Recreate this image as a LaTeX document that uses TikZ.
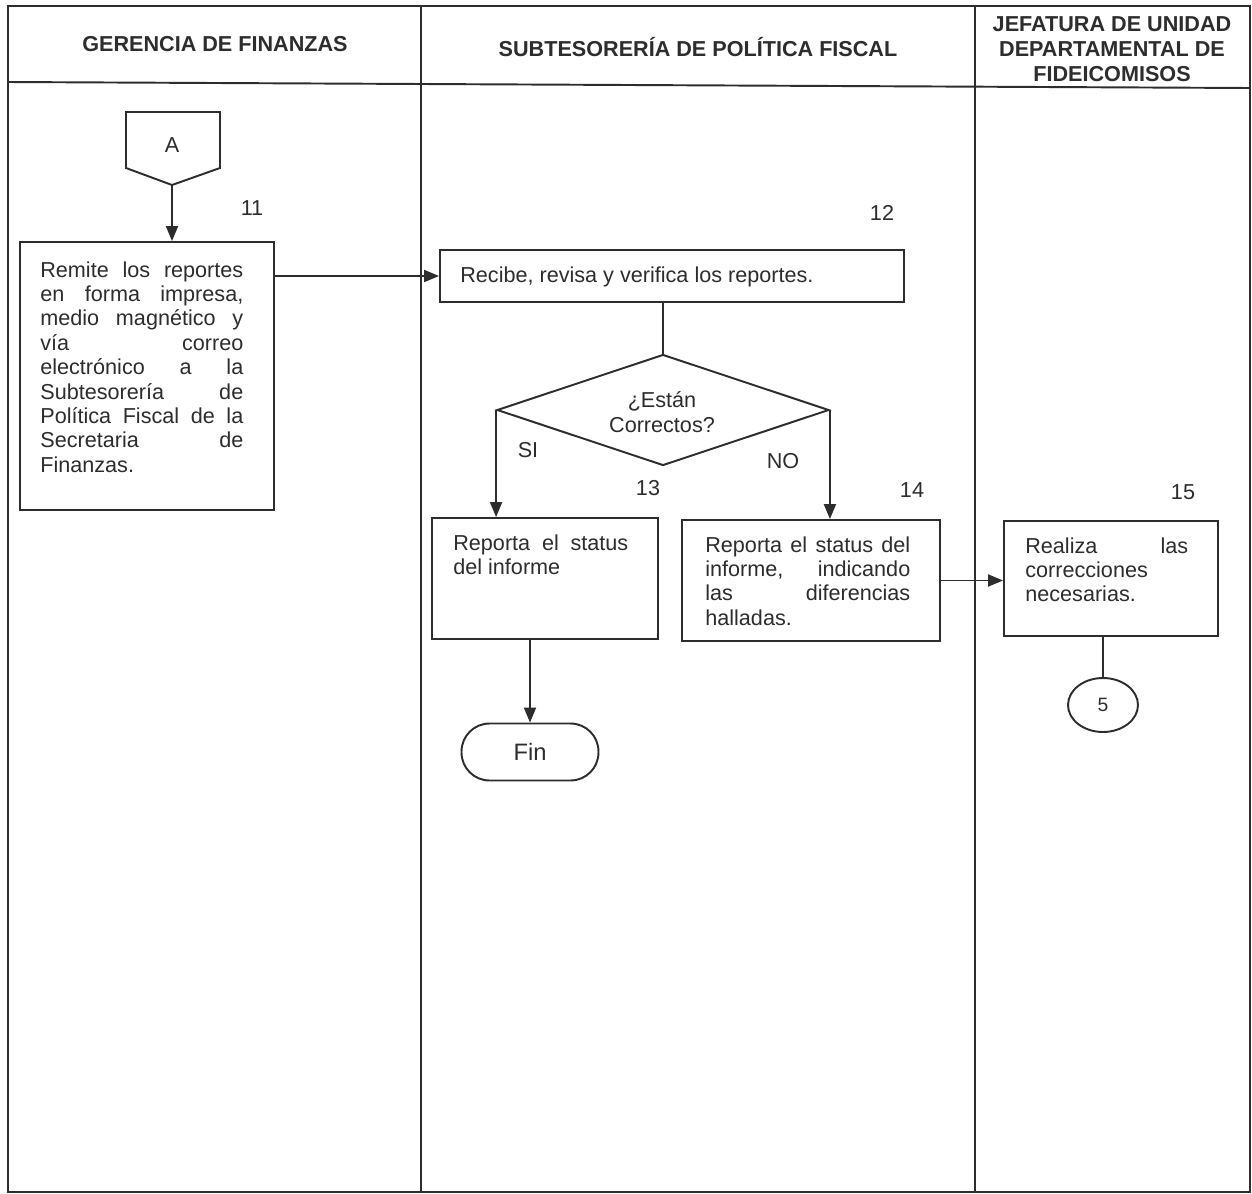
\documentclass[tikz,border=0pt]{standalone}
\usepackage{fontspec}
\setmainfont{Liberation Sans}
\usetikzlibrary{arrows.meta,shapes.geometric,fit}
\definecolor{ink}{RGB}{45,45,45}
\hbadness=10000
\begin{document}
\begin{tikzpicture}[x=0.02cm,y=-0.02cm,
  ln/.style={draw=ink, line width=1.1pt},
  box/.style={ln, inner sep=0pt},
  txt/.style={inner sep=0pt, anchor=north west, align=justify, font=\fontsize{12.3}{13.9}\selectfont, text=ink},
  lab/.style={inner sep=0pt, font=\fontsize{12.3}{13.9}\selectfont, text=ink},
  hdr/.style={inner sep=0pt, align=center, font=\bfseries\fontsize{12.3}{14.2}\selectfont, text=ink},
  arr/.style={ln, -{Triangle[length=0.3cm,width=0.24cm]}},
]
\useasboundingbox[fill=white] (0,0) rectangle (1252,1194);
% frame
\draw[ln] (8,6) rectangle (1250,1192);
\draw[ln] (8,82) -- (1250,88);
\draw[ln] (421,6) -- (421,1192);
\draw[ln] (975,6) -- (975,1192);
% headers
\node[hdr] (h1) at (215,44) {GERENCIA DE FINANZAS};
\node[hdr] (h2) at (698,47) {SUBTESORERÍA DE POLÍTICA FISCAL};
\node[hdr] (h3) at (1112,49) {JEFATURA DE UNIDAD\\DEPARTAMENTAL DE\\FIDEICOMISOS};
% off-page connector A
\coordinate (Ap) at (172,185);
\draw[ln] (126,112) -- (220,112) -- (220,168) -- (Ap) -- (126,168) -- cycle;
\node[lab] (A) at (172,145) {A};
% step 11
\node[lab] (n11) at (252,208) {11};
\node[box, fit={(20,242) (274,510)}] (b11) {};
\node[txt, text width=4.06cm] (t11) at (40,261) {Remite los reportes\linebreak en forma impresa,\linebreak medio magnético y\linebreak vía correo\linebreak electrónico a la\linebreak Subtesorería de\linebreak Política Fiscal de la\linebreak Secretaria de\linebreak Finanzas.};
% step 12
\node[lab] (n12) at (882,213) {12};
\node[box, fit={(440,250) (904,302)}] (b12) {};
\node[lab, anchor=west] (t12) at (460,277) {Recibe, revisa y verifica los reportes.};
% decision
\node[ln, diamond, minimum width=6.64cm, minimum height=2.22cm, inner sep=0pt] (d) at (663,410) {};
\node[lab, align=center] (dt) at (662,412) {¿Están\\Correctos?};
\node[lab] (si) at (528,450) {SI};
\node[lab] (no) at (783,461) {NO};
% step 13
\node[lab] (n13) at (648,488) {13};
\node[box, fit={(432,518) (658,639)}] (b13) {};
\node[txt, text width=3.5cm] (t13) at (453,534) {Reporta el status\linebreak del informe};
% step 14
\node[lab] (n14) at (912,490) {14};
\node[box, fit={(682,520) (940,641)}] (b14) {};
\node[txt, text width=4.1cm] (t14) at (705,536) {Reporta el status del\linebreak informe, indicando\linebreak las diferencias\linebreak halladas.};
% step 15
\node[lab] (n15) at (1183,492) {15};
\node[box, fit={(1004,521) (1218,636)}] (b15) {};
\node[txt, text width=3.26cm] (t15) at (1025,537) {Realiza las\linebreak correcciones\linebreak necesarias.};
% terminators
\node[ln, rounded corners=0.56cm, minimum width=2.74cm, minimum height=1.14cm, inner sep=0pt, text=ink, font=\fontsize{13.5}{15}\selectfont] (fin) at (530,752) {Fin};
\node[ln, ellipse, minimum width=1.4cm, minimum height=1.08cm, inner sep=0pt, text=ink, font=\fontsize{11}{13}\selectfont] (c5) at (1103,705) {5};
% connectors
\draw[arr] (Ap) -- (Ap |- b11.north);
\draw[arr] (b12.west -| b11.east) -- (b12.west);
\draw[ln] (d.north |- b12.south) -- (d.north);
\draw[arr] (d.west) -- (d.west |- b13.north);
\draw[arr] (d.east) -- (d.east |- b14.north);
\draw[arr] (fin.north |- b13.south) -- (fin.north);
\draw[arr] (b14.east) -- (b15.west |- b14.east);
\draw[ln] (c5.north |- b15.south) -- (c5.north);
\end{tikzpicture}
\end{document}
